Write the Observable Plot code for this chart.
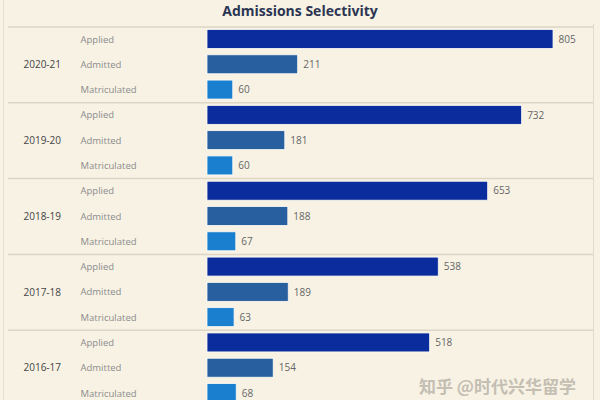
<!DOCTYPE html>
<html>
<head>
<meta charset="utf-8">
<script src="https://cdn.jsdelivr.net/npm/d3@7"></script>
<script src="https://cdn.jsdelivr.net/npm/@observablehq/plot@0.6"></script>
<style>
  html, body { margin: 0; padding: 0; background: #f7f2e4; width: 600px; height: 400px; overflow: hidden; }
  #title { height: 24px; line-height: 21px; text-align: center; font-family: "Open Sans", "DejaVu Sans", sans-serif; font-weight: bold; font-size: 14px; color: #2b3552; }
  #wm { position: absolute; left: 419px; top: 373px; font-family: "Noto Sans CJK SC", sans-serif; font-size: 17px; color: #c4beb3; font-weight: bold; white-space: nowrap; }
  #frame { position: absolute; left: 3px; top: 0; width: 1px; height: 400px; background: #e6e0d2; }
</style>
</head>
<body>
<div id="title">Admissions Selectivity</div>
<div id="chart"></div>
<div id="frame"></div>
<div id="wm">知乎 @时代兴华留学</div>
<script>
const years = ["2020-21", "2019-20", "2018-19", "2017-18", "2016-17"];
const categories = ["Applied", "Admitted", "Matriculated"];
const applied = [805, 732, 653, 538, 518];
const admitted = [211, 181, 188, 189, 154];
const matriculated = [60, 60, 67, 63, 68];
const colors = ["#0a2c9c", "#275f9f", "#1a7fcf"];

const series = [applied, admitted, matriculated];
const data = [];
years.forEach((yr, i) => {
  categories.forEach((c, j) => {
    data.push({year: yr, category: c, key: yr + "|" + c, value: series[j][i]});
  });
});
const keys = data.map(d => d.key);
const groupTops = years.map(yr => yr + "|Applied");

const chart = Plot.plot({
  width: 600,
  height: 380,
  marginTop: 5.5,
  marginBottom: 1.5,
  marginLeft: 207,
  marginRight: 7,
  style: {background: "transparent", fontFamily: "Open Sans, DejaVu Sans, sans-serif"},
  x: {domain: [0, 898], axis: null},
  y: {domain: keys, axis: null, padding: 0.25, paddingOuter: 0, align: 0, round: false},
  color: {domain: categories, range: colors},
  marks: [
    Plot.ruleX([898], {stroke: "#e2dccd", strokeWidth: 1, insetTop: -6}),
    Plot.ruleY(groupTops, {y: d => d, dy: -12.6, stroke: "#ddd6c6", strokeWidth: 1.5, insetLeft: -199, insetRight: 0}),
    Plot.barX(data, {x: "value", y: "key", fill: "category", stroke: "#fdfbf5", strokeWidth: 0.8}),
    Plot.text(data, {x: "value", y: "key", text: d => String(d.value), textAnchor: "start", dx: 5, fill: "#666", fontSize: 10}),
    Plot.text(data, {x: 0, y: "key", text: "category", textAnchor: "start", dx: -127, fill: "#8c8c8c", fontSize: 9.5}),
    Plot.text(data.filter(d => d.category === "Admitted"), {x: 0, y: "key", text: "year", textAnchor: "start", dx: -184, fill: "#444", fontSize: 10})
  ]
});
document.getElementById("chart").appendChild(chart);
</script>
</body>
</html>
